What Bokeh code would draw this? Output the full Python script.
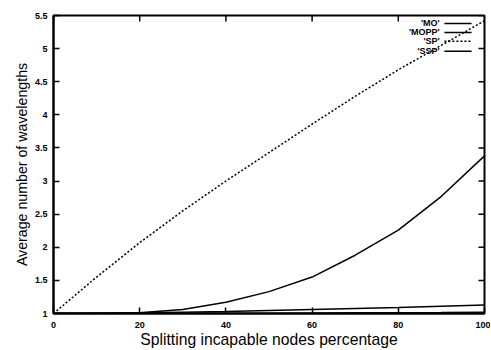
import math
from bokeh.plotting import figure
from bokeh.models import Range1d, FixedTicker
from bokeh.core.properties import value
from bokeh.embed import file_html
from bokeh.resources import INLINE

# data
x_vals = [0, 10, 20, 30, 40, 50, 60, 70, 80, 90, 100]
mo = [1.0, 1.005, 1.01, 1.02, 1.03, 1.045, 1.06, 1.075, 1.09, 1.11, 1.13]
mopp = [1.0, 1.0, 1.01, 1.06, 1.17, 1.33, 1.55, 1.88, 2.26, 2.77, 3.38]
sp = [1.0, 1.55, 2.07, 2.55, 3.0, 3.43, 3.86, 4.28, 4.68, 5.05, 5.42]
ssp = [1.0, 1.0, 1.0, 1.0, 1.0, 1.0, 1.005, 1.01, 1.012, 1.015, 1.02]

x_ticks = [0, 20, 40, 60, 80, 100]
y_ticks = [1, 1.5, 2, 2.5, 3, 3.5, 4, 4.5, 5, 5.5]
y_tick_labels = ["1", "1.5", "2", "2.5", "3", "3.5", "4", "4.5", "5", "5.5"]

series_names = ["'MO'", "'MOPP'", "'SP'", "'SSP'"]
series_data = [mo, mopp, sp, ssp]
series_dash = ["solid", "solid", "2 2", "solid"]

p = figure(width=490, height=350, output_backend="svg", toolbar_location=None,
           x_range=Range1d(0, 100), y_range=Range1d(1, 5.5),
           min_border_left=53, min_border_right=6, min_border_top=15, min_border_bottom=36)
p.grid.visible = False
p.outline_line_color = "black"
p.outline_line_width = 2
p.background_fill_color = "white"
p.border_fill_color = "white"

FONT = "Liberation Sans"

for ax in p.xaxis:
    ax.ticker = FixedTicker(ticks=x_ticks)
    ax.axis_label = "Splitting incapable nodes percentage"
    ax.axis_label_text_font_size = "15.7px"
for ax in p.yaxis:
    ax.ticker = FixedTicker(ticks=y_ticks)
    ax.major_label_overrides = {t: l for t, l in zip(y_ticks, y_tick_labels)}
    ax.axis_label = "Average number of wavelengths"
    ax.axis_label_text_font_size = "14.2px"

for ax in p.xaxis + p.yaxis:
    ax.major_tick_in = 6
    ax.major_tick_out = 0
    ax.minor_tick_in = 0
    ax.minor_tick_out = 0
    ax.axis_line_color = "black"
    ax.axis_line_width = 2
    ax.major_tick_line_color = "black"
    ax.major_tick_line_width = 1.5
    ax.major_label_text_font = FONT
    ax.major_label_text_font_size = "9px"
    ax.major_label_text_font_style = "bold"
    ax.major_label_text_color = "black"
    ax.axis_label_text_font = FONT
    ax.axis_label_text_font_style = "normal"
    ax.axis_label_text_color = "black"
p.xaxis.major_label_standoff = 8
p.xaxis.axis_label_standoff = 0
p.yaxis.major_label_standoff = 6
p.yaxis.axis_label_standoff = 2

# mirrored inward ticks on the right and top edges
p.ray(x=[100] * len(y_ticks), y=y_ticks, length=6, length_units="screen",
      angle=math.pi, line_color="black", line_width=1.5)
p.ray(x=x_ticks, y=[5.5] * len(x_ticks), length=6, length_units="screen",
      angle=-math.pi / 2, line_color="black", line_width=1.5)

for data, dash in zip(series_data, series_dash):
    p.line(x_vals, data, line_color="black", line_width=1.5, line_dash=dash)

# legend (text left, sample right) in data coordinates
leg_text_x = 89.6
leg_line_x0 = 90.7
leg_line_x1 = 97.0
leg_y = [5.38, 5.245, 5.11, 4.96]
p.text(x=[leg_text_x] * 4, y=leg_y, text=series_names, text_align="right",
       text_baseline="middle", text_font=value(FONT), text_font_size="9px",
       text_font_style="bold", text_color="black")
for yy, dash in zip(leg_y, series_dash):
    p.segment(x0=[leg_line_x0], y0=[yy], x1=[leg_line_x1], y1=[yy],
              line_color="black", line_width=1.5, line_dash=dash)

open("out.html", "w").write(file_html(p, INLINE))
